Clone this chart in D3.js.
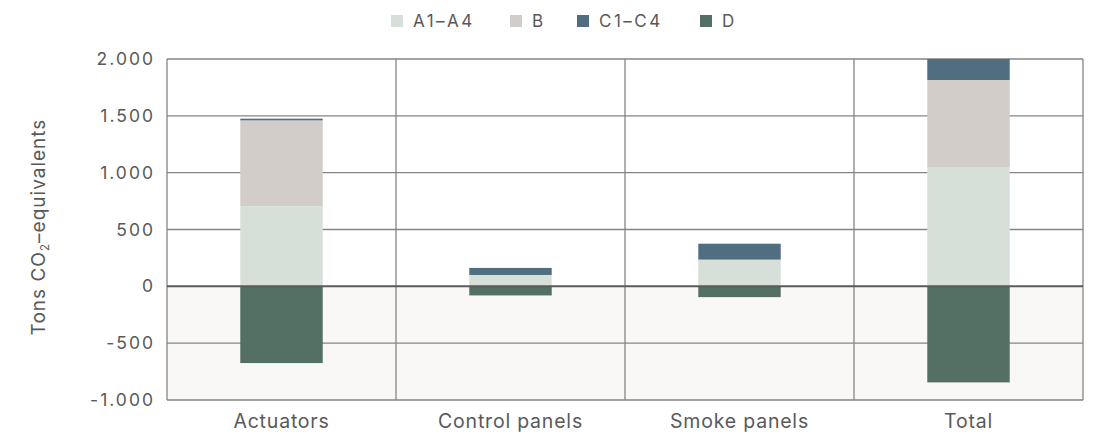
<!DOCTYPE html>
<html>
<head>
<meta charset="utf-8">
<script src="https://cdn.jsdelivr.net/npm/d3@7"></script>
<style>
  html, body { margin: 0; padding: 0; background: #ffffff; }
  svg text { font-family: Inter, "Noto Sans", sans-serif; fill: #595959; }
</style>
</head>
<body>
<svg id="chart" width="1096" height="437"></svg>
<script>
// Product categories and stacked lifecycle-stage emissions (tons CO2-eq)
const categories = ["Actuators", "Control panels", "Smoke panels", "Total"];
const seriesNames = ["A1–A4", "B", "C1–C4", "D"];
const a1a4 = [705, 100, 235, 1050];
const b = [755, 0, 0, 765];
const c1c4 = [15, 62, 140, 215];
const d = [-675, -80, -95, -845];
const yTicks = [-1000, -500, 0, 500, 1000, 1500, 2000];
const colors = ["#d6e0d9", "#d2cdc8", "#506e80", "#546f63"];

const rows = categories.map((c, i) => ({
  category: c, "A1–A4": a1a4[i], "B": b[i], "C1–C4": c1c4[i], "D": d[i]
}));

const svg = d3.select("#chart");
const margin = { top: 59, right: 13, bottom: 37, left: 167 };
const W = 1096, H = 437;
const innerW = W - margin.left - margin.right;
const innerH = H - margin.top - margin.bottom;

const x = d3.scaleBand().domain(categories).range([0, innerW]).paddingInner(0).paddingOuter(0);
const y = d3.scaleLinear().domain([-1000, 2000]).range([innerH, 0]);
const color = d3.scaleOrdinal().domain(seriesNames).range(colors);

const g = svg.append("g").attr("transform", `translate(${margin.left},${margin.top})`);

// shaded negative region
g.append("rect")
  .attr("x", 0).attr("y", y(0))
  .attr("width", innerW).attr("height", y(-1000) - y(0))
  .attr("fill", "#f9f8f6");

// horizontal gridlines
g.append("g")
  .selectAll("line")
  .data(yTicks.filter(t => t !== 0))
  .join("line")
  .attr("x1", 0).attr("x2", innerW)
  .attr("y1", t => y(t)).attr("y2", t => y(t))
  .attr("stroke", "#858585").attr("stroke-width", 1.3);

// vertical separators and frame sides
const seps = categories.map(c => x(c)).concat([innerW]);
g.append("g")
  .selectAll("line")
  .data(seps)
  .join("line")
  .attr("x1", v => v).attr("x2", v => v)
  .attr("y1", 0).attr("y2", innerH)
  .attr("stroke", "#858585").attr("stroke-width", 1.3);

// stacked bars (positive and negative stacked separately)
const stack = d3.stack().keys(seriesNames).offset(d3.stackOffsetDiverging);
const stacked = stack(rows);
const barW = x.bandwidth() * 0.36;

g.append("defs").append("clipPath").attr("id", "plotClip")
  .append("rect").attr("x", 0).attr("y", 0).attr("width", innerW).attr("height", innerH);

const bars = g.append("g").attr("clip-path", "url(#plotClip)");
bars.selectAll("g")
  .data(stacked)
  .join("g")
  .attr("fill", s => color(s.key))
  .selectAll("rect")
  .data(s => s)
  .join("rect")
  .attr("x", p => x(p.data.category) + (x.bandwidth() - barW) / 2)
  .attr("y", p => y(p[1]))
  .attr("width", barW)
  .attr("height", p => Math.max(0, y(p[0]) - y(p[1])));

// zero line
g.append("line")
  .attr("x1", 0).attr("x2", innerW)
  .attr("y1", y(0)).attr("y2", y(0))
  .attr("stroke", "#5a5a5a").attr("stroke-width", 2);

// y axis labels
const yAxis = d3.axisLeft(y)
  .tickValues(yTicks)
  .tickSize(0)
  .tickPadding(12)
  .tickFormat(v => d3.format(",")(v).replace(/,/g, ".").replace("−", "-"));
const ya = g.append("g").call(yAxis);
ya.select(".domain").remove();
ya.selectAll("text")
  .attr("font-size", 17.5)
  .attr("fill", "#595959")
  .style("font-family", "Inter, sans-serif")
  .style("letter-spacing", "2px");

// x axis labels
const xAxis = d3.axisBottom(x).tickSize(0).tickPadding(14);
const xa = g.append("g").attr("transform", `translate(0,${innerH})`).call(xAxis);
xa.select(".domain").remove();
xa.selectAll("text")
  .attr("font-size", 19.5)
  .attr("fill", "#595959")
  .style("font-family", "Inter, sans-serif")
  .style("letter-spacing", "0.8px");

// y axis title with subscript
const title = svg.append("text")
  .attr("transform", `translate(45,227) rotate(-90)`)
  .attr("text-anchor", "middle")
  .attr("font-size", 19)
  .style("letter-spacing", "1px");
title.append("tspan").text("Tons CO");
title.append("tspan").attr("font-size", 12).attr("dy", 4).text("2");
title.append("tspan").attr("dy", -4).text("–equivalents");

// legend
const legendX = [391, 510, 577, 700];
const legend = svg.append("g");
const li = legend.selectAll("g").data(seriesNames).join("g")
  .attr("transform", (s, i) => `translate(${legendX[i]},15)`);
li.append("rect").attr("width", 12).attr("height", 12).attr("fill", s => color(s));
li.append("text").attr("x", 22).attr("y", 12).attr("font-size", 17)
  .style("letter-spacing", "2.5px")
  .text(s => s);
</script>
</body>
</html>
